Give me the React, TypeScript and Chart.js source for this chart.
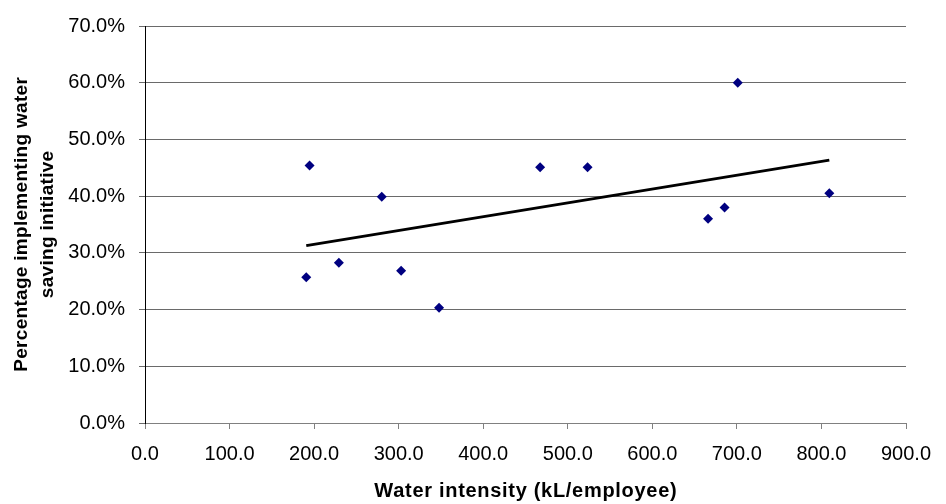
import React, { useEffect, useRef } from "react";
import { Chart, registerables } from "chart.js";

Chart.register(...registerables);

// Water intensity (kL/employee)
const waterIntensity = [190.7, 194.6, 229.3, 280.0, 302.9, 347.8, 467.3, 523.4, 665.9, 685.4, 701.0, 809.3];
// Percentage implementing water saving initiative (%)
const pctImplementing = [25.7, 45.4, 28.25, 39.9, 26.85, 20.3, 45.1, 45.1, 36.0, 38.0, 60.0, 40.5];

const xTitle = "Water intensity (kL/employee)";
const yTitle = ["Percentage implementing water", "saving initiative"];
const xMin = 0, xMax = 900, xStep = 100;
const yMin = 0, yMax = 70, yStep = 10;

const FONT = "'Liberation Sans', Arial, sans-serif";

function linearTrend(xs: number[], ys: number[]) {
  const n = xs.length;
  const mx = xs.reduce((a, b) => a + b, 0) / n;
  const my = ys.reduce((a, b) => a + b, 0) / n;
  let sxy = 0, sxx = 0;
  for (let i = 0; i < n; i++) {
    sxy += (xs[i] - mx) * (ys[i] - my);
    sxx += (xs[i] - mx) * (xs[i] - mx);
  }
  const slope = sxy / sxx;
  const icpt = my - slope * mx;
  const x0 = Math.min(...xs), x1 = Math.max(...xs);
  return [
    { x: x0, y: icpt + slope * x0 },
    { x: x1, y: icpt + slope * x1 },
  ];
}

const axisTitlesPlugin = {
  id: "axisTitles",
  afterDraw(chart: any) {
    const { ctx, chartArea } = chart;
    ctx.save();
    ctx.fillStyle = "#000000";
    ctx.textAlign = "center";
    ctx.textBaseline = "middle";
    // X title
    ctx.font = `bold 20px ${FONT}`;
    try { (ctx as any).letterSpacing = "0.7px"; } catch (e) {}
    const cx = (chartArea.left + chartArea.right) / 2;
    ctx.fillText(xTitle, cx + 0.35, 491);
    // Y title (rotated)
    ctx.font = `bold 19px ${FONT}`;
    try { (ctx as any).letterSpacing = "0.3px"; } catch (e) {}
    const cy = (chartArea.top + chartArea.bottom) / 2;
    const xs = [22, 48];
    yTitle.forEach((line, i) => {
      ctx.save();
      ctx.translate(xs[i], cy);
      ctx.rotate(-Math.PI / 2);
      ctx.fillText(line, 0.15, 0);
      ctx.restore();
    });
    ctx.restore();
  },
};

export default function App() {
  const ref = useRef<HTMLCanvasElement | null>(null);

  useEffect(() => {
    document.body.style.margin = "0";
    const canvas = ref.current;
    if (!canvas) return;
    const points = waterIntensity.map((x, i) => ({ x, y: pctImplementing[i] }));
    const trend = linearTrend(waterIntensity, pctImplementing);

    const chart = new Chart(canvas, {
      type: "scatter",
      data: {
        datasets: [
          {
            label: "Data",
            data: points,
            pointStyle: "rectRot",
            pointRadius: 5,
            backgroundColor: "#000080",
            borderColor: "#000080",
            borderWidth: 0,
            showLine: false,
            order: 1,
          },
          {
            label: "Trend",
            data: trend,
            showLine: true,
            pointRadius: 0,
            borderColor: "#000000",
            borderWidth: 3,
            backgroundColor: "#000000",
            order: 2,
          },
        ],
      },
      options: {
        animation: false,
        responsive: false,
        maintainAspectRatio: false,
        layout: { padding: { left: 0, top: 22, right: 40, bottom: 0 } },
        plugins: {
          legend: { display: false },
          tooltip: { enabled: false },
        },
        scales: {
          x: {
            type: "linear",
            min: xMin,
            max: xMax,
            ticks: {
              stepSize: xStep,
              color: "#000000",
              font: { family: FONT, size: 20 },
              padding: 13,
              callback: (v: any) => Number(v).toFixed(1),
            },
            grid: {
              drawOnChartArea: false,
              drawTicks: true,
              tickLength: 6,
              color: "#808080",
              lineWidth: 1,
            },
            border: { display: true, color: "#808080", width: 1 },
            title: { display: false },
            afterFit: (scale: any) => {
              scale.height = 81;
            },
          },
          y: {
            type: "linear",
            min: yMin,
            max: yMax,
            ticks: {
              stepSize: yStep,
              color: "#000000",
              font: { family: FONT, size: 20 },
              padding: 14,
              callback: (v: any) => Number(v).toFixed(1) + "%",
            },
            grid: {
              drawOnChartArea: true,
              drawTicks: true,
              tickLength: 6,
              color: "#6a6a6a",
              lineWidth: 1,
            },
            border: { display: true, color: "#000000", width: 1 },
            title: { display: false },
            afterFit: (scale: any) => {
              scale.width = 145;
            },
          },
        },
      },
      plugins: [axisTitlesPlugin],
    });
    return () => chart.destroy();
  }, []);

  return (
    <div style={{ width: 946, height: 504, background: "#ffffff" }}>
      <canvas ref={ref} width={946} height={504} style={{ display: "block" }} />
    </div>
  );
}
